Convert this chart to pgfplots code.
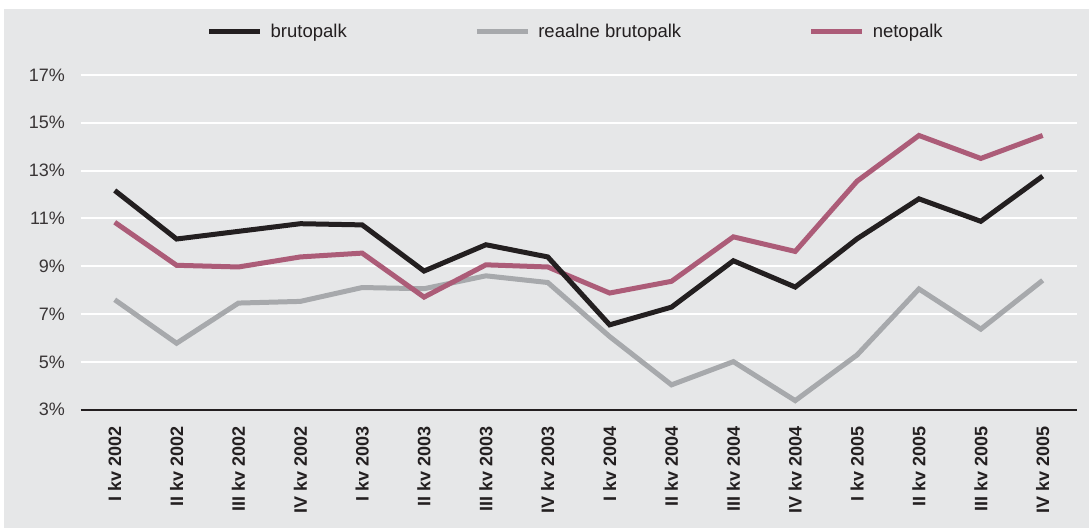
\documentclass[border=0pt]{standalone}
\usepackage{fontspec}
\setmainfont{Liberation Sans}
\usepackage{pgfplots}
\pgfplotsset{compat=1.18}
\definecolor{bg}{HTML}{E6E7E8}
\definecolor{cblack}{HTML}{231F20}
\definecolor{cgray}{HTML}{A7A9AC}
\definecolor{cpink}{HTML}{AC5C78}
\definecolor{ctext}{HTML}{231F20}
\begin{document}
\begin{tikzpicture}[x=1pt,y=1pt]
\fill[white] (0,0) rectangle (1089,530);
\fill[bg] (4,2) rectangle (1089,521);
\begin{axis}[
  at={(80.7pt,120.3pt)}, anchor=south west,
  width=996pt, height=334.7pt, scale only axis,
  xmin=-0.55, xmax=15.55, ymin=3, ymax=17,
  axis line style={draw=none},
  major tick length=0pt,
  ymajorgrids, major grid style={white, line width=2pt},
  ytick={3,5,...,17},
  yticklabel={\pgfmathprintnumber{\tick}\%},
  /pgf/number format/assume math mode=true,
  yticklabel style={font=\fontsize{18}{18}\selectfont, text=ctext!90!white, inner sep=0pt, anchor=east},
  yticklabel shift=15.7pt,
  xtick={0,...,15},
  xticklabels={I kv 2002, II kv 2002, III kv 2002, IV kv 2002, I kv 2003, II kv 2003, III kv 2003, IV kv 2003, I kv 2004, II kv 2004, III kv 2004, IV kv 2004, I kv 2005, II kv 2005, III kv 2005, IV kv 2005},
  xticklabel style={font=\fontsize{18}{18}\selectfont\bfseries, text=ctext, inner sep=0pt, rotate=90, anchor=east},
  xticklabel shift=17pt,
  legend style={at={(0.497,1.13)}, anchor=center, draw=none, fill=none,
    font=\fontsize{18.5}{18.5}\selectfont, text=ctext,
    /tikz/every odd column/.append style={column sep=6pt},
    /tikz/every even column/.append style={column sep=125.5pt}},
  legend columns=3,
  legend image code/.code={\draw[#1, line width=5pt] (0pt,0pt) -- (51pt,0pt);},
  clip=false,
]
\addplot[cgray, line width=5pt, forget plot] coordinates {
(0,7.60) (1,5.78) (2,7.46) (3,7.53) (4,8.11) (5,8.06) (6,8.60) (7,8.32)
(8,6.06) (9,4.04) (10,5.01) (11,3.38) (12,5.29) (13,8.05) (14,6.37) (15,8.41)};
\addplot[cpink, line width=5pt, forget plot] coordinates {
(0,10.84) (1,9.04) (2,8.97) (3,9.39) (4,9.55) (5,7.71) (6,9.06) (7,8.97)
(8,7.88) (9,8.37) (10,10.23) (11,9.62) (12,12.56) (13,14.47) (14,13.51) (15,14.47)};
\addplot[cblack, line width=5pt, forget plot] coordinates {
(0,12.17) (1,10.14) (2,10.46) (3,10.78) (4,10.73) (5,8.80) (6,9.90) (7,9.39)
(8,6.55) (9,7.29) (10,9.23) (11,8.13) (12,10.15) (13,11.82) (14,10.88) (15,12.77)};
\draw[cblack, line width=2pt] (axis cs:-0.55,3) -- (axis cs:15.55,3);
\addlegendimage{cblack}
\addlegendentry{brutopalk}
\addlegendimage{cgray}
\addlegendentry{reaalne brutopalk}
\addlegendimage{cpink}
\addlegendentry{netopalk}
\end{axis}
\pgfresetboundingbox
\useasboundingbox (0,0) rectangle (1089,530);
\end{tikzpicture}
\end{document}
